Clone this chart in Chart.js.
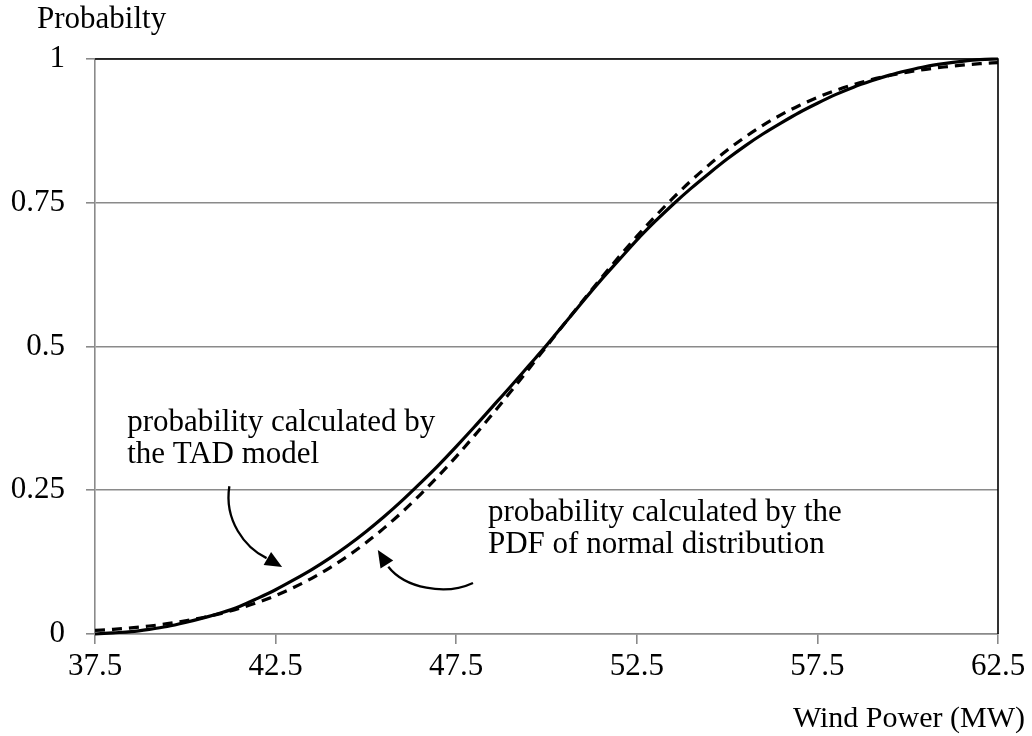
<!DOCTYPE html>
<html>
<head>
<meta charset="utf-8">
<script src="https://cdn.jsdelivr.net/npm/chart.js@4/dist/chart.umd.min.js"></script>
<style>
html,body{margin:0;padding:0;background:#fff;}
#wrap{width:1032px;height:736px;}
</style>
</head>
<body>
<div id="wrap"><canvas id="c" width="1032" height="736"></canvas></div>
<script>
// ---- data ----
const windPower = [37.5,38,38.5,39,39.5,40,40.5,41,41.5,42,42.5,43,43.5,44,44.5,45,45.5,46,46.5,47,47.5,48,48.5,49,49.5,50,50.5,51,51.5,52,52.5,53,53.5,54,54.5,55,55.5,56,56.5,57,57.5,58,58.5,59,59.5,60,60.5,61,61.5,62,62.5];
const tadProbability = [0.000,0.002,0.004,0.008,0.013,0.020,0.028,0.037,0.048,0.062,0.077,0.094,0.112,0.132,0.154,0.178,0.204,0.232,0.262,0.293,0.326,0.360,0.395,0.430,0.466,0.502,0.540,0.578,0.615,0.650,0.685,0.717,0.747,0.775,0.801,0.826,0.849,0.870,0.889,0.907,0.923,0.938,0.951,0.962,0.972,0.980,0.987,0.992,0.996,0.999,1.000];
const normalProbability = [0.0062,0.0082,0.0107,0.0139,0.0179,0.0228,0.0287,0.0359,0.0446,0.0548,0.0668,0.0808,0.0968,0.1151,0.1357,0.1587,0.1841,0.2119,0.2420,0.2743,0.3085,0.3446,0.3821,0.4207,0.4602,0.5000,0.5398,0.5793,0.6179,0.6554,0.6915,0.7257,0.7580,0.7881,0.8159,0.8413,0.8643,0.8849,0.9032,0.9192,0.9332,0.9452,0.9554,0.9641,0.9713,0.9772,0.9821,0.9861,0.9893,0.9918,0.9938];
const xTickValues = [37.5,42.5,47.5,52.5,57.5,62.5];
const xTickLabels = ['37.5','42.5','47.5','52.5','57.5','62.5'];
const yTickValues = [0,0.25,0.5,0.75,1];
const yTickLabels = ['0','0.25','0.5','0.75','1'];
const yAxisTitle = 'Probabilty';
const xAxisTitle = 'Wind Power (MW)';
const tadNote = ['probability calculated by','the TAD model'];
const pdfNote = ['probability calculated by the','PDF of normal distribution'];

const FONT = '"Liberation Serif", "Times New Roman", serif';
const GRAY = '#8a8a8a';

function toPoints(xs, ys){ return xs.map((x,i)=>({x:x,y:ys[i]})); }

const notesPlugin = {
  id:'notes',
  afterDraw(chart){
    const ctx = chart.ctx, a = chart.chartArea;
    const xs = chart.scales.x, ys = chart.scales.y;
    const P = (x,y)=>[xs.getPixelForValue(x), ys.getPixelForValue(y)];
    ctx.save();
    // plot border top and right (black)
    ctx.strokeStyle = '#000'; ctx.lineWidth = 1.6;
    ctx.beginPath();
    ctx.moveTo(a.left, a.top); ctx.lineTo(a.right, a.top); ctx.lineTo(a.right, a.bottom);
    ctx.stroke();
    // axis titles
    ctx.fillStyle = '#000';
    ctx.font = '31px ' + FONT;
    ctx.textBaseline = 'alphabetic';
    ctx.textAlign = 'left';
    ctx.fillText(yAxisTitle, 37, 28);
    ctx.font = '30px ' + FONT;
    ctx.textAlign = 'right';
    ctx.fillText(xAxisTitle, 1025, 727);
    // annotation texts (anchored in data units)
    ctx.font = '31px ' + FONT;
    ctx.textAlign = 'left';
    let p = P(38.39, 0.353); ctx.fillText(tadNote[0], p[0], p[1]);
    p = P(38.39, 0.2974); ctx.fillText(tadNote[1], p[0], p[1]);
    p = P(48.38, 0.197); ctx.fillText(pdfNote[0], p[0], p[1]);
    p = P(48.38, 0.141); ctx.fillText(pdfNote[1], p[0], p[1]);
    // arrows
    function arrow(p0,c1,c2,p3,tip){
      const A=P(...p0),B=P(...c1),C=P(...c2),D=P(...p3),T=P(...tip);
      ctx.strokeStyle='#000'; ctx.lineWidth=2.3;
      ctx.beginPath(); ctx.moveTo(A[0],A[1]);
      ctx.bezierCurveTo(B[0],B[1],C[0],C[1],D[0],D[1]);
      ctx.stroke();
      const dx=T[0]-D[0], dy=T[1]-D[1], L=Math.hypot(dx,dy);
      const ux=dx/L, uy=dy/L, len=17, hw=7.5;
      const bx=T[0]-ux*len, by=T[1]-uy*len;
      ctx.fillStyle='#000';
      ctx.beginPath(); ctx.moveTo(T[0],T[1]);
      ctx.lineTo(bx-uy*hw, by+ux*hw); ctx.lineTo(bx+uy*hw, by-ux*hw);
      ctx.closePath(); ctx.fill();
    }
    arrow([41.22,0.257],[41.07,0.198],[41.65,0.150],[42.25,0.132],[42.68,0.1165]);
    arrow([47.965,0.0887],[47.19,0.066],[46.08,0.080],[45.62,0.117],[45.33,0.146]);
    ctx.restore();
  }
};

new Chart(document.getElementById('c'), {
  type:'line',
  data:{
    datasets:[
      {label:'PDF of normal distribution', data:toPoints(windPower, normalProbability),
       borderColor:'#000', borderWidth:3.2, borderDash:[10,7], pointRadius:0, fill:false,
       cubicInterpolationMode:'monotone', clip:false},
      {label:'TAD model', data:toPoints(windPower, tadProbability),
       borderColor:'#000', borderWidth:3.2, pointRadius:0, fill:false,
       cubicInterpolationMode:'monotone', clip:false}
    ]
  },
  options:{
    responsive:false, animation:false,
    layout:{padding:{top:59,right:34,left:0,bottom:0}},
    plugins:{legend:{display:false}, tooltip:{enabled:false}},
    scales:{
      x:{type:'linear', min:37.5, max:62.5,
         afterBuildTicks(s){ s.ticks = xTickValues.map(v=>({value:v})); },
         afterFit(s){ s.height = 102; },
         ticks:{font:{family:FONT,size:31}, color:'#000', padding:4, maxRotation:0,
                callback:(v)=>xTickLabels[xTickValues.indexOf(v)]},
         grid:{drawOnChartArea:false, drawTicks:true, tickLength:10, color:GRAY, lineWidth:1.6},
         border:{display:true, color:GRAY, width:1.6}},
      y:{min:0, max:1,
         afterBuildTicks(s){ s.ticks = yTickValues.map(v=>({value:v})); },
         afterFit(s){ s.width = 95; },
         ticks:{font:{family:FONT,size:31}, color:'#000', padding:21,
                callback:(v)=>yTickLabels[yTickValues.indexOf(v)]},
         grid:{color:GRAY, lineWidth:1.6, tickLength:9},
         border:{display:true, color:GRAY, width:1.6}}
    }
  },
  plugins:[notesPlugin]
});
</script>
</body>
</html>
